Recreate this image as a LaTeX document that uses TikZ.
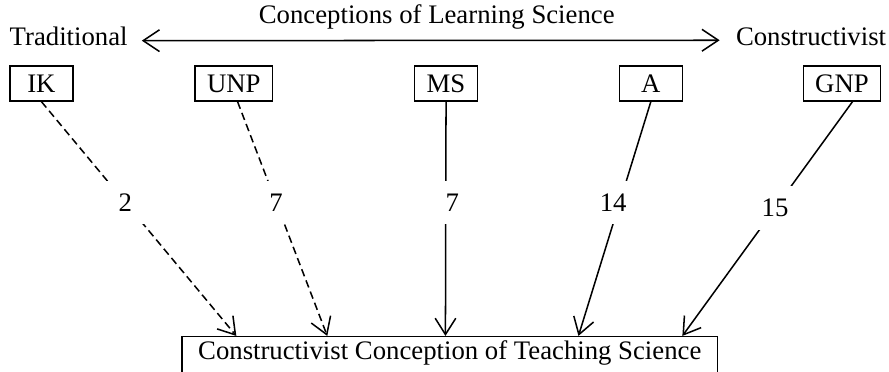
\documentclass[tikz,border=0pt]{standalone}
\usepackage{fontspec}
\setmainfont{Liberation Serif}
\usepackage{tikz}
\usetikzlibrary{arrows.meta}
\tikzstyle{concept}=[rectangle,draw=black,line width=0.7pt,inner xsep=5.5pt,
minimum width=29pt,minimum height=16pt]
\tikzstyle{teaching}=[rectangle,draw=black,line width=0.7pt,inner ysep=2pt,
minimum width=8.65cm,text height=8.3pt,text depth=6pt,anchor=north]
\tikzstyle{freq}=[fill=white,inner sep=6pt]
\tikzstyle{link}=[-{Straight Barb[length=7.5pt,width=9.5pt]},line width=0.7pt]
\tikzstyle{weak}=[link,dash pattern=on 3.5pt off 2pt]
\tikzstyle{spectrum}=[{Straight Barb[length=7.5pt,width=10pt]}-{Straight Barb[length=7.5pt,width=10pt]},
line width=0.7pt,shorten <=3pt,shorten >=4pt]

\begin{document}
\begin{tikzpicture}[font=\fontsize{12.3}{14}\selectfont]
        \useasboundingbox (0,0) rectangle (14.37,-6.00);
        \node (trad) at (1.11,-0.59) {Traditional};
        \node (title) at (7.06,-0.28) {Conceptions of Learning Science};
        \node (cons) at (13.11,-0.59) {Constructivist};
        \draw [style=spectrum] (trad.mid east) to (cons.mid west);
        \node [style=concept] (ik) at (0.67,-1.35) {IK};
        \node [style=concept] (unp) at (3.78,-1.35) {UNP};
        \node [style=concept] (ms) at (7.21,-1.35) {MS};
        \node [style=concept] (a) at (10.52,-1.35) {A};
        \node [style=concept] (gnp) at (13.61,-1.35) {GNP};
        \node [style=teaching] (ccts) at (7.27,-5.43) {Constructivist Conception of Teaching Science};
        \draw [style=weak] (ik.south) to node [style=freq,pos=0.43] {2} ([xshift=-3.45cm]ccts.north);
        \draw [style=weak] ([xshift=0.06cm]unp.south) to node [style=freq,pos=0.43] {7} ([xshift=-1.98cm]ccts.north);
        \draw [style=link] (ms.south) to node [style=freq,pos=0.43,xshift=3pt] {7} ([xshift=-0.07cm]ccts.north);
        \draw [style=link] (a.south) to node [style=freq,pos=0.43,xshift=-3pt] {14} ([xshift=2.08cm]ccts.north);
        \draw [style=link] ([xshift=0.17cm]gnp.south) to node [style=freq,pos=0.455] {15} ([xshift=3.76cm]ccts.north);
    \end{tikzpicture}
\end{document}
